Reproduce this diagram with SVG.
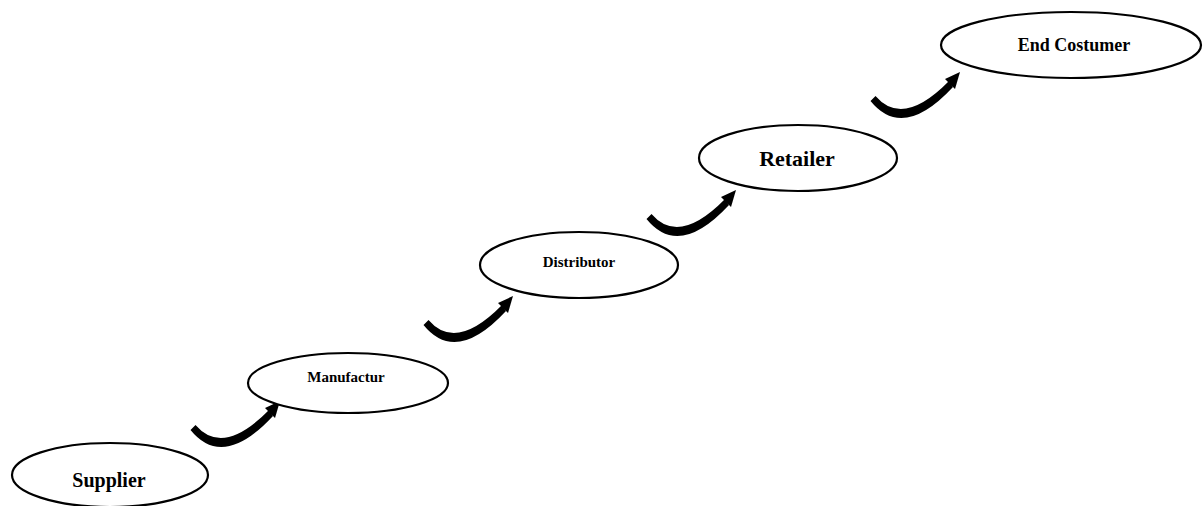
<svg xmlns="http://www.w3.org/2000/svg" width="1203" height="506" viewBox="0 0 1203 506">
<style>
.node{fill:#fff;stroke:#000;stroke-width:2.2}
.lbl{font-family:"Liberation Serif","Times New Roman",serif;font-weight:bold;fill:#000;text-anchor:middle}
.arr{fill:#000}
</style>
<defs>
<g id="curvedArrow">
<path d="M-2.5,2 Q30,42 80,-12 L76,-18 Q30,29 2.5,-3 Z"/>
<path d="M72,-20 L87,-27 L82,-10 Z"/>
</g>
</defs>
<rect width="1203" height="506" fill="#fff"/>
<g id="connectors" class="arr">
<use href="#curvedArrow" transform="translate(193,428)"/>
<use href="#curvedArrow" transform="translate(426,323)"/>
<use href="#curvedArrow" transform="translate(649,217)"/>
<use href="#curvedArrow" transform="translate(873,99)"/>
</g>
<g id="supplier">
<ellipse class="node" cx="110" cy="475" rx="98" ry="32"/>
<text class="lbl" x="109" y="487" font-size="20">Supplier</text>
</g>
<g id="manufactur">
<ellipse class="node" cx="348" cy="383" rx="100" ry="30"/>
<text class="lbl" x="346" y="382" font-size="15">Manufactur</text>
</g>
<g id="distributor">
<ellipse class="node" cx="579" cy="265" rx="99" ry="33"/>
<text class="lbl" x="579" y="267" font-size="15">Distributor</text>
</g>
<g id="retailer">
<ellipse class="node" cx="798" cy="158" rx="99" ry="33"/>
<text class="lbl" x="797" y="166" font-size="22">Retailer</text>
</g>
<g id="end-costumer">
<ellipse class="node" cx="1071" cy="45" rx="130" ry="33"/>
<text class="lbl" x="1074" y="51" font-size="18">End Costumer</text>
</g>
</svg>
